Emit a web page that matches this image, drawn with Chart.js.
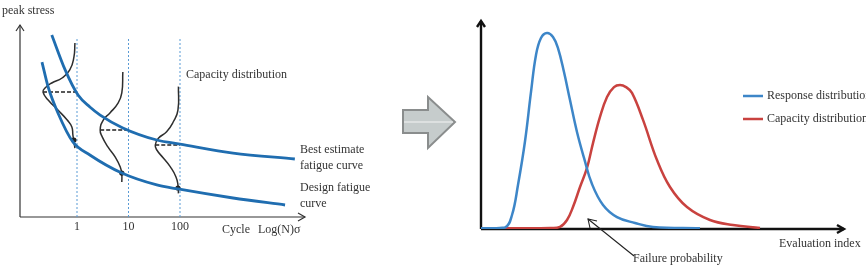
<!DOCTYPE html>
<html><head><meta charset="utf-8">
<script src="https://cdn.jsdelivr.net/npm/chart.js"></script>
<style>html,body{margin:0;padding:0;background:#fff;overflow:hidden}
#wrap{position:relative;width:866px;height:266px}
canvas{position:absolute;left:0;top:0}</style></head>
<body><div id="wrap"><canvas id="left" width="866" height="266"></canvas><canvas id="right" width="866" height="266"></canvas></div>
<script>
// ---------- Left panel: fatigue curves (x = log10 cycles, y = peak stress) ----------
const cycleTicks = [0, 1, 2];
const cycleTickLabels = ['1', '10', '100'];
const bestEstimateX = [-0.49, -0.23, 0.02, 0.25, 0.45, 0.89, 1.55, 2.00, 3.03, 4.23];
const bestEstimateY = [94.8, 76.6, 63.5, 57.3, 53.1, 46.4, 40.1, 38.0, 33.3, 30.2];
const designX = [-0.68, -0.56, -0.37, -0.08, 0.25, 0.87, 1.55, 1.96, 3.03, 4.04];
const designY = [80.7, 67.7, 54.2, 39.1, 32.3, 22.9, 16.7, 14.6, 9.9, 6.25];
const capacity1X = [-0.04, -0.06, -0.14, -0.29, -0.49, -0.62, -0.66, -0.56, -0.37, -0.19, -0.10, -0.08, -0.06, -0.04];
const capacity1Y = [90.6, 83.3, 76.6, 72.4, 69.8, 67.2, 65.1, 60.9, 55.7, 50.5, 46.9, 42.7, 39.1, 35.9];
const capacity2X = [0.89, 0.87, 0.80, 0.64, 0.51, 0.45, 0.49, 0.60, 0.74, 0.84, 0.87, 0.87];
const capacity2Y = [75.5, 64.6, 59.4, 54.2, 50.5, 45.3, 41.7, 36.5, 31.3, 26.0, 21.9, 18.2];
const capacity3X = [1.97, 1.96, 1.87, 1.74, 1.58, 1.52, 1.55, 1.68, 1.81, 1.92, 1.96, 1.97];
const capacity3Y = [67.9, 55.7, 49.6, 44.4, 41.0, 37.5, 34.9, 30.6, 26.2, 21.0, 16.7, 12.3];
const meanStartX = [-0.66, 0.45, 1.52];
const meanStress = [65.1, 45.3, 37.5];
const designHitX = [-0.06, 0.87, 1.96];
const designHitY = [40.1, 22.9, 15.1];

// ---------- Right panel: distributions (x = evaluation index, y = density) ----------
const responseX = [0, 6.59, 8.52, 10.16, 12.09, 13.74, 15.11, 16.48, 18.13, 19.78, 21.15, 22.8, 24.45, 26.37, 28.3, 30.49, 33.52, 37.36, 42.31, 47.25, 60.16];
const responseY = [0.3, 0.72, 6.7, 21.05, 42.0, 65.6, 83.3, 91.4, 93.8, 91.9, 86.6, 75.1, 61.7, 46.4, 34.0, 21.5, 11.5, 5.7, 2.9, 1.0, 0.4];
const capacityX = [0, 18.96, 21.7, 23.63, 25.27, 27.2, 29.12, 30.77, 32.69, 34.62, 36.54, 38.19, 39.84, 41.48, 44.51, 48.35, 51.92, 56.59, 62.91, 69.23, 76.65];
const capacityY = [0.3, 0.5, 1.0, 4.3, 10.5, 20.1, 29.2, 41.1, 53.6, 63.2, 67.9, 68.9, 67.9, 65.1, 52.2, 33.0, 20.1, 10.5, 4.3, 1.9, 0.5];
const seriesLabels = ['Response distribution', 'Capacity distribution'];

const zip = (xs, ys) => xs.map((x, i) => ({x, y: ys[i]}));
const FONT = '12px "Liberation Serif", "Times New Roman", serif';
const TEXT = '#333';

function chevron(ctx, x1, y1, x2, y2, x3, y3) {
  ctx.beginPath(); ctx.moveTo(x1, y1); ctx.lineTo(x2, y2); ctx.lineTo(x3, y3); ctx.stroke();
}

// ---------- Left chart ----------
const leftDatasets = [];
const curveBlue = '#1f6db0';
leftDatasets.push({data: zip(bestEstimateX, bestEstimateY), borderColor: curveBlue, borderWidth: 2.8, cubicInterpolationMode: 'monotone', pointRadius: 0, order: 0});
leftDatasets.push({data: zip(designX, designY), borderColor: curveBlue, borderWidth: 2.8, cubicInterpolationMode: 'monotone', pointRadius: 0, order: 0});
leftDatasets.push({data: zip(designHitX, designHitY), showLine: false, pointRadius: 2.6, pointBackgroundColor: '#222', pointBorderWidth: 0, order: 1});
[[capacity1X, capacity1Y], [capacity2X, capacity2Y], [capacity3X, capacity3Y]].forEach(([xs, ys]) => {
  leftDatasets.push({data: zip(xs, ys), borderColor: '#2e2e2e', borderWidth: 1.5, tension: 0.5, pointRadius: 0, order: 2});
});
meanStartX.forEach((x0, i) => {
  leftDatasets.push({data: [{x: x0, y: meanStress[i]}, {x: cycleTicks[i], y: meanStress[i]}], borderColor: '#222', borderWidth: 1.5, borderDash: [4, 2], pointRadius: 0, order: 2});
});
cycleTicks.forEach(t => {
  leftDatasets.push({data: [{x: t, y: 0}, {x: t, y: 93.75}], borderColor: '#5b9bd5', borderWidth: 1, borderDash: [2, 2], pointRadius: 0, order: 3});
});

const leftDecor = {
  id: 'leftDecor',
  beforeDatasetsDraw(chart) {
    const ctx = chart.ctx, a = chart.chartArea;
    ctx.save();
    ctx.strokeStyle = '#333'; ctx.lineWidth = 1.2;
    ctx.beginPath(); ctx.moveTo(a.left, a.bottom); ctx.lineTo(a.left, a.top); ctx.stroke();
    chevron(ctx, a.left - 4, a.top + 6, a.left, a.top, a.left + 4, a.top + 6);
    ctx.beginPath(); ctx.moveTo(a.left, a.bottom); ctx.lineTo(a.right, a.bottom); ctx.stroke();
    chevron(ctx, a.right - 7, a.bottom - 4, a.right, a.bottom, a.right - 7, a.bottom + 4);
    ctx.restore();
  },
  afterDraw(chart) {
    const ctx = chart.ctx, xs = chart.scales.x;
    ctx.save();
    ctx.font = FONT; ctx.fillStyle = TEXT; ctx.textBaseline = 'middle';
    ctx.textAlign = 'center';
    cycleTicks.forEach((t, i) => ctx.fillText(cycleTickLabels[i], xs.getPixelForValue(t), 227));
    ctx.textAlign = 'left';
    ctx.fillText('peak stress', 2, 11);
    ctx.fillText('Cycle', 222, 230);
    ctx.fillText('Log(N)σ', 258, 230);
    ctx.fillText('Capacity distribution', 186, 75);
    ctx.fillText('Best estimate', 300, 150);
    ctx.fillText('fatigue curve', 300, 166);
    ctx.fillText('Design fatigue', 300, 188);
    ctx.fillText('curve', 300, 204);
    ctx.restore();
  }
};

new Chart(document.getElementById('left'), {
  type: 'line',
  data: {datasets: leftDatasets},
  options: {
    responsive: false, animation: false, devicePixelRatio: 1,
    layout: {padding: {left: 20, right: 561, top: 25, bottom: 49}},
    plugins: {legend: {display: false}, tooltip: {enabled: false}},
    elements: {line: {fill: false}},
    scales: {
      x: {type: 'linear', display: false, min: -1.1068, max: 4.4272},
      y: {type: 'linear', display: false, min: 0, max: 100}
    }
  },
  plugins: [leftDecor]
});

// ---------- Right chart ----------
const respColor = '#3d86c8';
const capColor = '#c9423f';
const rightDecor = {
  id: 'rightDecor',
  beforeDatasetsDraw(chart) {
    const ctx = chart.ctx, a = chart.chartArea;
    ctx.save();
    ctx.strokeStyle = '#111'; ctx.lineWidth = 2.4; ctx.lineCap = 'butt';
    ctx.beginPath(); ctx.moveTo(a.left, a.bottom); ctx.lineTo(a.left, a.top + 1); ctx.stroke();
    chevron(ctx, a.left - 4, a.top + 7, a.left, a.top + 1, a.left + 4, a.top + 7);
    ctx.beginPath(); ctx.moveTo(a.left, a.bottom); ctx.lineTo(a.right - 1, a.bottom); ctx.stroke();
    chevron(ctx, a.right - 8, a.bottom - 4, a.right - 1, a.bottom, a.right - 8, a.bottom + 4);
    ctx.restore();
  },
  afterDraw(chart) {
    const ctx = chart.ctx;
    ctx.save();
    const colors = [respColor, capColor];
    seriesLabels.forEach((lab, i) => {
      const y = 96 + i * 23;
      ctx.strokeStyle = colors[i]; ctx.lineWidth = 2.5;
      ctx.beginPath(); ctx.moveTo(743, y); ctx.lineTo(763, y); ctx.stroke();
      ctx.font = FONT; ctx.fillStyle = TEXT; ctx.textBaseline = 'middle'; ctx.textAlign = 'left';
      ctx.fillText(lab, 767, y);
    });
    ctx.fillText('Evaluation index', 779, 244);
    ctx.fillText('Failure probability', 633, 259);
    ctx.strokeStyle = '#222'; ctx.lineWidth = 1.1;
    ctx.beginPath(); ctx.moveTo(634, 256); ctx.lineTo(588, 219); ctx.stroke();
    chevron(ctx, 590, 228, 588, 219, 597, 221);
    ctx.beginPath();
    ctx.moveTo(403, 110); ctx.lineTo(428, 110); ctx.lineTo(428, 97); ctx.lineTo(455, 122);
    ctx.lineTo(428, 148); ctx.lineTo(428, 133); ctx.lineTo(403, 133); ctx.closePath();
    ctx.fillStyle = '#c6cccc'; ctx.fill();
    ctx.strokeStyle = '#8a8d8d'; ctx.lineWidth = 2; ctx.stroke();
    ctx.strokeStyle = 'rgba(255,255,255,0.8)'; ctx.lineWidth = 1;
    ctx.beginPath(); ctx.moveTo(404, 122); ctx.lineTo(453, 122); ctx.stroke();
    ctx.restore();
  }
};

new Chart(document.getElementById('right'), {
  type: 'line',
  data: {datasets: [
    {label: seriesLabels[0], data: zip(responseX, responseY), borderColor: respColor, borderWidth: 2.5, tension: 0.4, pointRadius: 0},
    {label: seriesLabels[1], data: zip(capacityX, capacityY), borderColor: capColor, borderWidth: 2.5, tension: 0.4, pointRadius: 0}
  ]},
  options: {
    responsive: false, animation: false, devicePixelRatio: 1,
    layout: {padding: {left: 481, right: 21, top: 20, bottom: 37}},
    plugins: {legend: {display: false}, tooltip: {enabled: false}},
    scales: {
      x: {type: 'linear', display: false, min: 0, max: 100},
      y: {type: 'linear', display: false, min: 0, max: 100}
    }
  },
  plugins: [rightDecor]
});
</script>
</body></html>
